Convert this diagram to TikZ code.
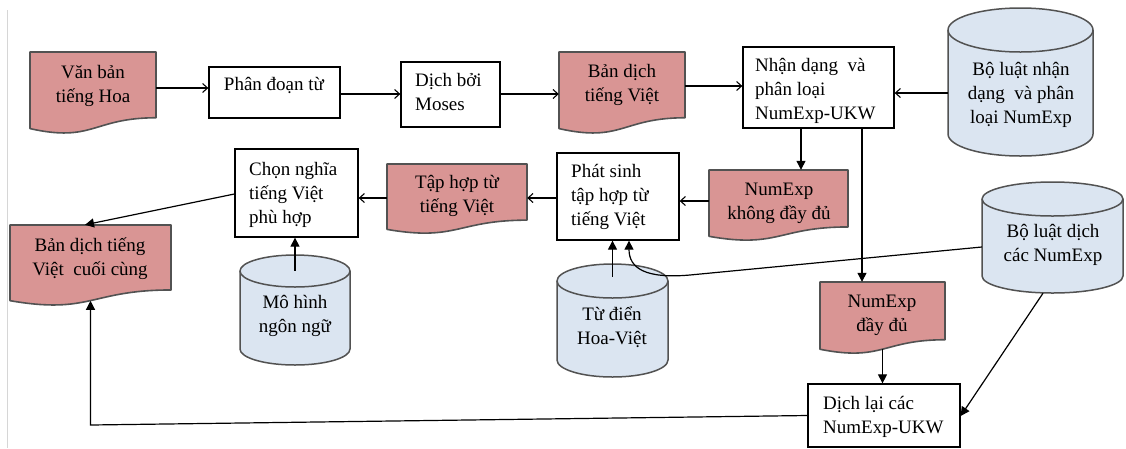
\documentclass[tikz,border=0pt]{standalone}
\usepackage{fontspec}
\setmainfont{Liberation Serif}
\usetikzlibrary{arrows.meta,fit}

\definecolor{docpink}{HTML}{D99594}
\definecolor{cylblue}{HTML}{DBE5F1}
\definecolor{pagegray}{HTML}{D6D6D6}
\newcommand\lblfont{\fontsize{19}{24}\selectfont}

\tikzset{
  % labels are placed by the baseline of their last line
  lbl/.style={font=\lblfont, inner sep=0pt, align=center, anchor=base},
  lbll/.style={font=\lblfont, inner sep=0pt, align=left, anchor=base west},
  procbox/.style={draw=black, line width=1.3pt, fill=white, inner sep=0pt},
  docs/.style={fill=docpink, draw=black!68, line width=1.6pt, line join=round},
  cyl/.style={fill=cylblue, draw=black!68, line width=1.5pt},
  openarr/.style={-{Straight Barb[length=5pt,width=9pt]}, line width=1.1pt},
  fillarr/.style={-{Triangle[length=9pt,width=9pt]}, line width=1.2pt},
}

% document symbol: name, left x, top y, right x, height
\newcommand\docshape[5]{%
  \path[docs] (#2,#3) -- (#4,#3) -- (#4,{#3+0.802*#5})
    .. controls ({(#2+#4)/2},{#3+0.802*#5}) and ({(#2+#4)/2},{#3+1.1075*#5}) ..
    (#2,{#3+0.934*#5}) -- cycle;
  \node[fit={(#2,#3) (#4,{#3+0.933*#5})}, inner sep=0pt] (#1) {};
}
% database cylinder: name, left x, top y, right x, bottom y, end radius
\newcommand\cylshape[6]{%
  \path[cyl] (#2,{#3+#6}) -- (#2,{#5-#6})
    arc[start angle=180, end angle=360, x radius={(#4-#2)/2*1pt}, y radius={#6*1pt}]
    -- (#4,{#3+#6})
    arc[start angle=0, end angle=180, x radius={(#4-#2)/2*1pt}, y radius={#6*1pt}]
    -- cycle;
  \draw[cyl, fill=none] (#2,{#3+#6})
    arc[start angle=180, end angle=360, x radius={(#4-#2)/2*1pt}, y radius={#6*1pt}];
  \node[fit={(#2,#3) (#4,#5)}, inner sep=0pt] (#1) {};
}

\begin{document}
\begin{tikzpicture}[x=1pt, y=-1pt]
\useasboundingbox (0,0) rectangle (1126,448);
\fill[white] (0,0) rectangle (1126,448);
\draw[pagegray, line width=1pt] (7,10) -- (7,448);

% shapes
\docshape{vb}{30}{52}{156}{82}
\node[procbox, fit={(209,67) (340,118)}] (pd) {};
\node[procbox, fit={(401,62) (500,127)}] (dm) {};
\docshape{bd}{559}{52}{685}{82}
\node[procbox, fit={(743,47) (894,128)}] (nd) {};
\cylshape{bln}{948}{8}{1093}{156}{22}
\docshape{nkd}{709}{170}{848}{71}
\node[procbox, fit={(557,153) (679,240)}] (ps) {};
\docshape{th}{387}{164}{527}{70}
\node[procbox, fit={(235,149) (358,237)}] (cn) {};
\docshape{bdc}{10}{225}{171}{81}
\cylshape{mh}{240}{255}{350}{365}{16}
\cylshape{td}{557}{264}{668}{377}{17}
\cylshape{bldich}{982}{182}{1123}{293}{17}
\docshape{ndd}{820}{282}{945}{72}
\node[procbox, fit={(808,384) (960,447)}] (dl) {};

% labels
\node[lbl]  (t-vb) at (93,102) {Văn bản\\tiếng Hoa};
\node[lbl]  (t-pd) at (274,90) {Phân đoạn từ};
\node[lbll] (t-dm) at (415,110) {Dịch bởi\\Moses};
\node[lbl]  (t-bd) at (622,101) {Bản dịch\\tiếng Việt};
\node[lbll] (t-nd) at (755,119) {Nhận dạng\ \ và\\phân loại\\NumExp-UKW};
\node[lbl]  (t-bln) at (1021,123) {Bộ luật nhận\\dạng\ \ và phân\\loại NumExp};
\node[lbll] (t-ps) at (571,225) {Phát sinh\\tập hợp từ\\tiếng Việt};
\node[lbl]  (t-nkd) at (779,219) {NumExp\\không đầy đủ};
\node[lbl]  (t-th) at (457,212) {Tập hợp từ\\tiếng Việt};
\node[lbll] (t-cn) at (249,223) {Chọn nghĩa\\tiếng Việt\\phù hợp};
\node[lbl]  (t-bdc) at (90,275) {Bản dịch tiếng\\Việt\ \ cuối cùng};
\node[lbl]  (t-mh) at (295,332) {Mô hình\\ngôn ngữ};
\node[lbl]  (t-td) at (612,344) {Từ điển\\Hoa-Việt};
\node[lbl]  (t-bldich) at (1053,261) {Bộ luật dịch\\các NumExp};
\node[lbl]  (t-ndd) at (882,331) {NumExp\\đầy đủ};
\node[lbll] (t-dl) at (823,433) {Dịch lại các\\NumExp-UKW};

% connectors
\draw[openarr] (vb.east |- 0,88) -- (pd.west |- 0,88);
\draw[openarr] (pd.east |- 0,94) -- (dm.west |- 0,94);
\draw[openarr] (dm.east |- 0,94) -- (bd.west |- 0,94);
\draw[openarr] (bd.east |- 0,86) -- (nd.west |- 0,86);
\draw[openarr] (bln.west |- 0,93) -- (nd.east |- 0,93);
\draw[fillarr] (nd.south -| 801,0) -- (nkd.north -| 801,0);
\draw[fillarr] (nd.south -| 862,0) -- (ndd.north -| 862,0);
\draw[openarr] (nkd.west |- 0,201) -- (ps.east |- 0,201);
\draw[openarr] (ps.west |- 0,198) -- (th.east |- 0,198);
\draw[openarr] (th.west |- 0,198) -- (cn.east |- 0,198);
\draw[fillarr] (cn.west |- 0,194) -- (bdc.north -| 85,0);
\draw[fillarr] ([yshift=-16pt]mh.north) -- (cn.south -| mh.north);
\draw[fillarr] ([yshift=-13pt]td.north) -- (ps.south -| td.north);
\draw[fillarr] (bldich.west |- 0,247) -- (690,275)
  .. controls (645,279) and (629,268) .. (ps.south -| 629,0);
\draw[fillarr] (ndd.south) -- (dl.north -| ndd.south);
\draw[fillarr] (bldich.south -| 1043,0) -- (dl.east |- 0,416);
\draw[fillarr] (dl.west) -- (bdc.south |- 0,425) -- (bdc.south);
\end{tikzpicture}
\end{document}
